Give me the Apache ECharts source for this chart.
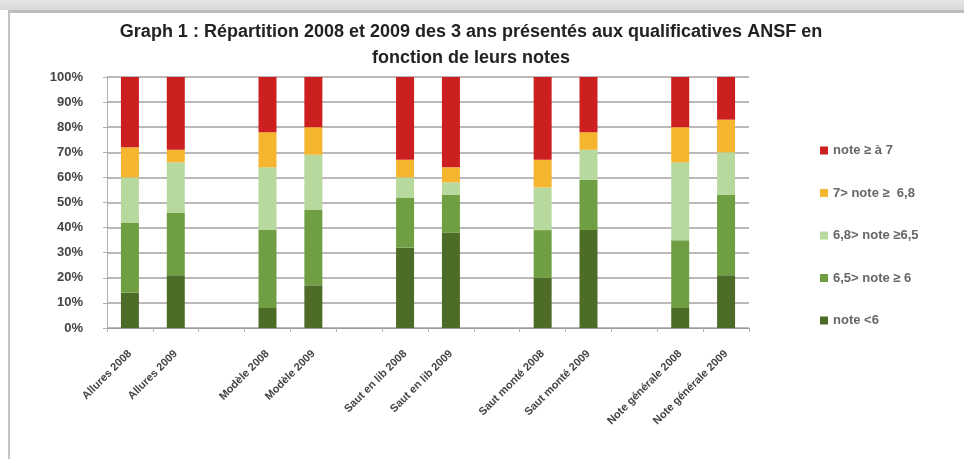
<!DOCTYPE html>
<html><head><meta charset="utf-8">
<script src="https://cdn.jsdelivr.net/npm/echarts@6/dist/echarts.min.js"></script>
<style>
html,body{margin:0;padding:0;background:#fff;}
#topband{position:absolute;left:0;top:0;width:964px;height:10px;background:linear-gradient(#e4e4e4,#d8d8d8);}
#topline{position:absolute;left:8px;top:10px;width:956px;height:3px;background:#bdbdbd;}
#leftline{position:absolute;left:8px;top:10px;width:2px;height:449px;background:#c2c2c2;}
#chart{position:absolute;left:0;top:0;width:964px;height:459px;}
</style></head>
<body>
<div id="chart"></div>
<div id="topband"></div><div id="topline"></div><div id="leftline"></div>
<script>
const categories = ["Allures 2008","Allures 2009","Modèle 2008","Modèle 2009","Saut en lib 2008","Saut en lib 2009","Saut monté 2008","Saut monté 2009","Note générale 2008","Note générale 2009"];
const seriesNames = ["note <6","6,5> note ≥ 6","6,8> note ≥6,5","7> note ≥  6,8","note ≥ à 7"];
const noteLt6     = [14, 21,  8, 17, 32, 38, 20, 39,  8, 21];
const note6to65   = [28, 25, 31, 30, 20, 15, 19, 20, 27, 32];
const note65to68  = [18, 20, 25, 22,  8,  5, 17, 12, 31, 17];
const note68to7   = [12,  5, 14, 11,  7,  6, 11,  7, 14, 13];
const noteGe7     = [28, 29, 22, 20, 33, 36, 33, 22, 20, 17];
const yTicks = ["0%","10%","20%","30%","40%","50%","60%","70%","80%","90%","100%"];
const colors = ["#4d6c28","#6f9f42","#b7d99e","#f6b52e","#cc1f1f"];

// insert an empty slot between each pair of bars
function withGaps(arr, blank){
  const out=[];
  arr.forEach((v,i)=>{ out.push(v); if(i%2===1 && i<arr.length-1) out.push(blank); });
  return out;
}
const axisCats = withGaps(categories, "");
const allData = [noteLt6, note6to65, note65to68, note68to7, noteGe7];
const FONT = 'Liberation Sans, Arial, sans-serif';

const chart = echarts.init(document.getElementById('chart'));
chart.setOption({
  animation:false,
  backgroundColor:'#fff',
  title:{
    text:"Graph 1 : Répartition 2008 et 2009 des 3 ans présentés aux qualificatives ANSF en\nfonction de leurs notes",
    left:466, top:14, textAlign:'center',
    textStyle:{fontFamily:FONT,fontSize:18,fontWeight:'bold',color:'#222',lineHeight:26}
  },
  legend:{
    orient:'vertical', left:815, top:139, itemWidth:8, itemHeight:8, itemGap:29.5,
    data: seriesNames.slice().reverse(),
    icon:'rect',
    textStyle:{fontFamily:FONT,fontSize:13,fontWeight:'bold',color:'#666'}
  },
  grid:{left:107, right:215, top:77, bottom:131},
  xAxis:{
    type:'category', data:axisCats,
    axisLine:{lineStyle:{color:'#9a9a9a'}},
    axisTick:{show:true, interval:0, length:4, lineStyle:{color:'#b0b0b0'}},
    axisLabel:{interval:0, rotate:45, margin:24, fontFamily:FONT, fontSize:11, fontWeight:'bold', color:'#444'}
  },
  yAxis:{
    type:'value', min:0, max:100, interval:10,
    axisLine:{show:true, lineStyle:{color:'#b0b0b0'}},
    axisTick:{show:true, length:4, lineStyle:{color:'#b0b0b0'}},
    axisLabel:{margin:24, fontFamily:FONT, fontSize:13, fontWeight:'bold', color:'#444',
      formatter:(v)=>yTicks[Math.round(v/10)]},
    splitLine:{lineStyle:{color:'#a99f9f', width:1.5}}
  },
  series: allData.map((d,i)=>({
    name:seriesNames[i], type:'bar', stack:'total', barWidth:18,
    itemStyle:{color:colors[i]},
    data: withGaps(d, null)
  }))
});
</script>
</body></html>
